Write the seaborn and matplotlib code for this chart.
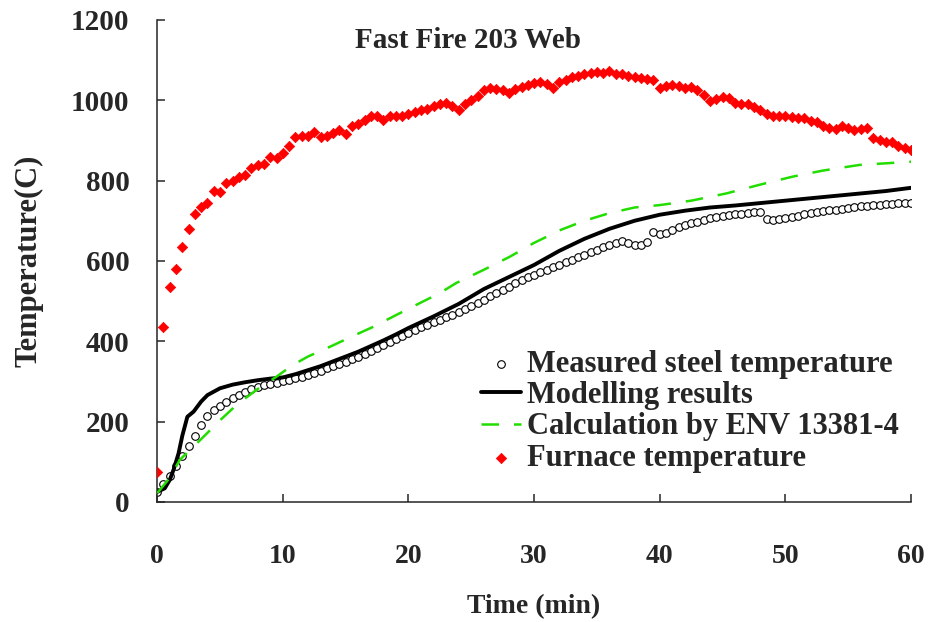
import numpy as np
import pandas as pd
import seaborn as sns
import matplotlib
matplotlib.use("Agg")
import matplotlib.pyplot as plt

# -------------------------------------------------
# Data
# -------------------------------------------------
# measured and furnace temperatures are logged every half minute
t_logged = np.arange(0, 60.5, 0.5)

furnace_temp = [
    75, 435, 535, 580, 635, 680, 718, 735, 745, 775,
    772, 793, 800, 808, 815, 832, 838, 842, 858, 855,
    868, 885, 908, 910, 910, 922, 908, 912, 918, 925,
    915, 935, 942, 950, 960, 962, 952, 960, 962, 962,
    965, 970, 975, 978, 985, 990, 992, 985, 975, 990,
    1000, 1010, 1025, 1030, 1028, 1025, 1018, 1028, 1032, 1038,
    1042, 1046, 1040, 1030, 1045, 1050, 1058, 1060, 1065, 1068,
    1070, 1068, 1072, 1065, 1066, 1060, 1058, 1055, 1052, 1050,
    1030, 1035, 1038, 1035, 1030, 1032, 1025, 1012, 998, 1002,
    1008, 1006, 993, 990, 990, 982, 975, 965, 962, 960,
    962, 958, 955, 955, 948, 945, 935, 930, 928, 935,
    932, 925, 928, 930, 905, 900, 897, 895, 885, 882,
    876,
]

measured_temp = [
    25, 45, 65, 90, 115, 140, 165, 192, 213, 228,
    240, 250, 260, 267, 274, 280, 286, 290, 294, 297,
    300, 304, 308, 312, 317, 322, 327, 333, 338, 343,
    348, 355, 362, 368, 376, 383, 390, 398, 406, 414,
    421, 428, 435, 441, 448, 454, 460, 466, 473, 480,
    487, 495, 503, 512, 520, 528, 536, 544, 552, 560,
    566, 572, 578, 584, 590, 597, 603, 609, 615, 621,
    627, 634, 640, 645, 650, 645, 640, 640, 648, 672,
    668, 670, 678, 684, 690, 694, 698, 703, 706, 710,
    712, 714, 716, 717, 719, 721, 723, 705, 702, 705,
    707, 710, 713, 716, 719, 722, 724, 726, 728, 730,
    732, 734, 736, 737, 739, 740, 741, 742, 743, 744,
    745,
]

model_time = [0, 0.6, 1.0, 1.3, 1.7, 2.0, 2.4, 2.9, 3.5, 4.0, 5.0, 6.0, 7.0, 8.0,
              9.0, 10.0, 11.0, 12.0, 13.0, 14.0, 15.0, 16.0, 17.0, 18.0, 19.0,
              20.0, 22.0, 24.0, 26.0, 28.0, 30.0, 32.0, 34.0, 36.0, 38.0, 40.0,
              42.0, 44.0, 46.0, 48.0, 50.0, 52.0, 54.0, 56.0, 58.0, 60.0]
model_temp = [25, 34, 55, 80, 121, 165, 212, 225, 250, 266, 283, 292, 298, 303,
              307, 310, 318, 328, 338, 350, 362, 374, 388, 402, 417,
              433, 462, 493, 530, 560, 590, 625, 655, 680, 700, 715,
              725, 733, 738, 744, 750, 756, 762, 768, 774, 782]

env_time = [0, 1.0, 1.8, 2.9, 4.0, 4.75, 6.3, 7.9, 9.5, 10.8, 12.0, 13.8, 15.5,
            17.2, 19.0, 20.9, 22.5, 23.8, 26.0, 28.1, 30.0, 32.1, 34.0, 36.0,
            38.0, 40.0, 42.5, 45.3, 48.0, 50.6, 53.0, 55.9, 58.0, 60.0]
env_temp = [22, 60, 105, 138, 172, 196, 241, 279, 312, 341, 362, 387, 412,
            436, 465, 495, 520, 545, 578, 611, 645, 677, 700, 719,
            733, 739, 750, 768, 790, 810, 825, 839, 843, 847]

# -------------------------------------------------
# Style
# -------------------------------------------------
sns.set_style("ticks")
plt.rcParams['font.family'] = ['Liberation Serif', 'DejaVu Serif']
plt.rcParams['font.weight'] = 'bold'

fig = plt.figure(figsize=(9.47, 6.22), dpi=100)
ax = fig.add_axes([0.166, 0.193, 0.796, 0.775])

# -------------------------------------------------
# Plot
# -------------------------------------------------
sns.scatterplot(x=t_logged, y=measured_temp, ax=ax, marker='o', s=30,
                facecolor='white', edgecolor='black', linewidth=0.8,
                label='Measured steel temperature', zorder=2)
sns.lineplot(x=model_time, y=model_temp, ax=ax, color='black', linewidth=2.8,
             estimator=None, label='Modelling results', zorder=3)
sns.lineplot(x=env_time, y=env_temp, ax=ax, color='#22dd00', linewidth=1.8,
             estimator=None, dashes=False, label='Calculation by ENV 13381-4', zorder=4)
ax.lines[-1].set_dashes((7, 6))
sns.scatterplot(x=t_logged, y=furnace_temp, ax=ax, marker='D', s=28,
                color='red', edgecolor='red', linewidth=0.5,
                label='Furnace temperature', zorder=5)

ax.set_xlim(0, 60)
ax.set_ylim(0, 1200)
ax.set_xticks(range(0, 61, 10))
ax.set_yticks(range(0, 1201, 200))
sns.despine(ax=ax)
for sp in ax.spines.values():
    sp.set_linewidth(1.1)

ax.tick_params(axis='both', direction='in', length=6, width=1.1)
ax.tick_params(axis='y', pad=20, labelsize=21)
ax.tick_params(axis='x', pad=30, labelsize=20)

ax.set_xlabel('Time (min)', fontsize=20, fontweight='bold', labelpad=18)
ax.set_ylabel('Temperature(C)', fontsize=22, fontweight='bold', labelpad=20)

ax.text(0.412, 0.985, 'Fast Fire 203 Web', transform=ax.transAxes,
        ha='center', va='top', fontsize=21, fontweight='bold')

ax.legend(loc='lower right', bbox_to_anchor=(1.0, 0.035), frameon=False,
          fontsize=22, handlelength=1.3, handletextpad=0.2,
          labelspacing=0.08, borderaxespad=0)

fig.savefig('out.png', dpi=100)
